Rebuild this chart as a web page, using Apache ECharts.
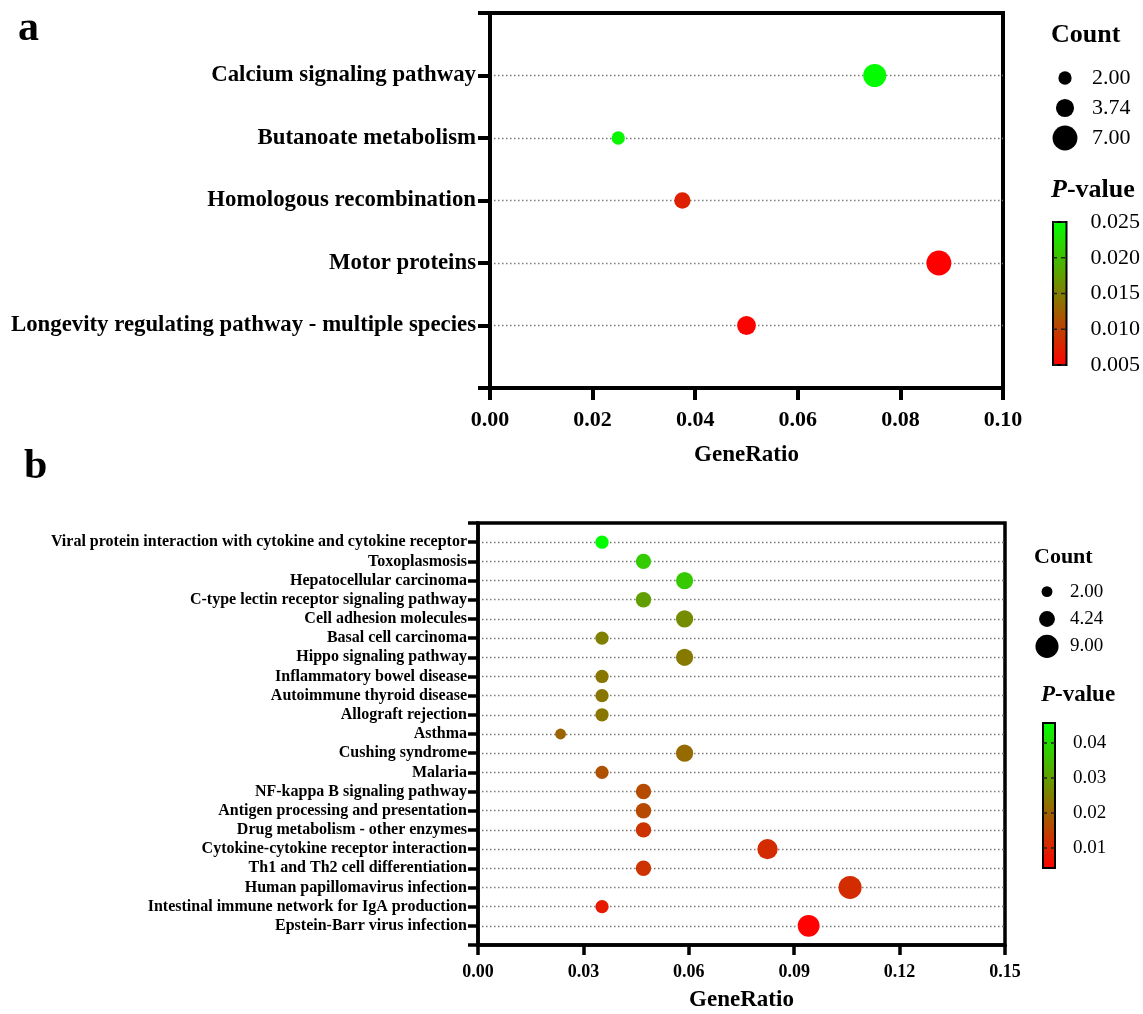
<!DOCTYPE html>
<html><head><meta charset="utf-8">
<script src="https://cdn.jsdelivr.net/npm/echarts@6/dist/echarts.min.js"></script>
<style>html,body{margin:0;padding:0;background:#fff}#c{width:1143px;height:1014px}</style>
</head><body><div id="c"></div>
<script>
// ---------- Panel a data ----------
const catsA = ['Calcium signaling pathway','Butanoate metabolism','Homologous recombination','Motor proteins','Longevity regulating pathway - multiple species'];
const ratioA = [0.075, 0.025, 0.0375, 0.0875, 0.05];
const countA = [6, 2, 3, 7, 4];
const pA = [0.0248, 0.0243, 0.0075, 0.0050, 0.0053];
const countLegendA = [2.00, 3.74, 7.00];
const pTicksA = [0.005, 0.010, 0.015, 0.020, 0.025];
const pRangeA = [0.005, 0.025];
const xTicksA = [0, 0.1, 0.02];

// ---------- Panel b data ----------
const catsB = ['Viral protein interaction with cytokine and cytokine receptor','Toxoplasmosis','Hepatocellular carcinoma','C-type lectin receptor signaling pathway','Cell adhesion molecules','Basal cell carcinoma','Hippo signaling pathway','Inflammatory bowel disease','Autoimmune thyroid disease','Allograft rejection','Asthma','Cushing syndrome','Malaria','NF-kappa B signaling pathway','Antigen processing and presentation','Drug metabolism - other enzymes','Cytokine-cytokine receptor interaction','Th1 and Th2 cell differentiation','Human papillomavirus infection','Intestinal immune network for IgA production','Epstein-Barr virus infection'];
const ratioB = [0.0353,0.0471,0.0588,0.0471,0.0588,0.0353,0.0588,0.0353,0.0353,0.0353,0.0235,0.0588,0.0353,0.0471,0.0471,0.0471,0.0824,0.0471,0.1059,0.0353,0.0941];
const countB = [3,4,5,4,5,3,5,3,3,3,2,5,3,4,4,4,7,4,9,3,8];
const pB = [0.0455,0.0375,0.0370,0.0300,0.0270,0.0250,0.0240,0.0235,0.0235,0.0235,0.0205,0.0215,0.0175,0.0165,0.0160,0.0125,0.0115,0.0125,0.0115,0.0085,0.0045];
const countLegendB = [2.00, 4.24, 9.00];
const pTicksB = [0.01, 0.02, 0.03, 0.04];
const pRangeB = [0.0043, 0.0457];
const xTicksB = [0, 0.15, 0.03];

const FF = 'Liberation Serif, Times New Roman, serif';
const sizeA = c => 9.4 * Math.sqrt(c);
const sizeB = c => 7.7 * Math.sqrt(c);

function mainGrid(idx, cats, xt, o) {
  const x = {
    type: 'value', gridIndex: idx, min: xt[0], max: xt[1], interval: xt[2],
    name: 'GeneRatio', nameLocation: 'middle', nameGap: o.nameGap,
    nameTextStyle: {fontFamily: FF, fontWeight: 'bold', fontSize: o.nameSize, color: '#000'},
    axisLine: {show: true, lineStyle: {color: '#000', width: o.lw}},
    axisTick: {show: true, length: o.tickLen, lineStyle: {color: '#000', width: o.lw}},
    axisLabel: {fontFamily: FF, fontWeight: 'bold', fontSize: o.xLabSize, color: '#000', margin: o.xMargin,
      formatter: v => v.toFixed(2)},
    splitLine: {show: false}
  };
  const y = {
    type: 'category', gridIndex: idx, data: [''].concat(cats, ['']), inverse: true, boundaryGap: false,
    axisLine: {show: true, lineStyle: {color: '#000', width: o.lw}},
    axisTick: {show: true, length: o.tickLen, lineStyle: {color: '#000', width: o.lw}},
    axisLabel: {fontFamily: FF, fontWeight: 'bold', fontSize: o.yLabSize, color: '#000', margin: o.yMargin, interval: 0},
    splitLine: {show: true, interval: (i, v) => v !== '', lineStyle: {color: '#7a7a7a', width: 1.4, type: [1.5, 2.5]}}
  };
  return [x, y];
}

const [xa, ya] = mainGrid(0, catsA, xTicksA, {lw: 4, tickLen: 12, nameGap: 56, nameSize: 23, xLabSize: 22, xMargin: 21, yLabSize: 22.8, yMargin: 14});
const [xb, yb] = mainGrid(1, catsB, xTicksB, {lw: 3.5, tickLen: 10, nameGap: 44, nameSize: 23, xLabSize: 18, xMargin: 18, yLabSize: 16, yMargin: 11});

function legendAxes(idx, vals, margin, fs) {
  return [
    {type: 'value', gridIndex: idx, min: 0, max: 1, show: false},
    {type: 'category', gridIndex: idx, data: vals.map(v => v.toFixed(2)), position: 'right', inverse: true,
      axisLine: {show: false}, axisTick: {show: false}, splitLine: {show: false},
      axisLabel: {fontFamily: FF, fontSize: fs, color: '#000', margin: margin, align: 'left'}}
  ];
}
function barAxes(idx, mn, mx, iv, margin, fs, dec) {
  return [
    {type: 'value', gridIndex: idx, min: 0, max: 1, show: false},
    {type: 'value', gridIndex: idx, min: mn, max: mx, interval: iv, position: 'right',
      axisLine: {show: false}, axisTick: {show: false}, splitLine: {show: false},
      axisLabel: {fontFamily: FF, fontSize: fs, color: '#000', margin: margin, align: 'left',
        showMinLabel: dec === 3, showMaxLabel: dec === 3, formatter: v => v.toFixed(dec)}}
  ];
}
const [xla, yla] = legendAxes(2, countLegendA, 12, 22);
const [xca, yca] = barAxes(3, pRangeA[0], pRangeA[1], 0.005, 24, 22, 3);
const [xlb, ylb] = legendAxes(4, countLegendB, 8, 19);
const [xcb, ycb] = barAxes(5, 0, 0.05, 0.01, 18, 19, 2);

function barSeries(xi, yi, range) {
  return {
    type: 'custom', xAxisIndex: xi, yAxisIndex: yi, silent: true,
    data: [[range[0], range[1]]],
    renderItem: (params, api) => {
      const p0 = api.coord([0, api.value(0)]);
      const p1 = api.coord([1, api.value(1)]);
      return {type: 'rect', shape: {x: p0[0], y: p1[1], width: p1[0] - p0[0], height: p0[1] - p1[1]},
        style: {fill: new echarts.graphic.LinearGradient(0, 0, 0, 1, [{offset: 0, color: '#00ff00'}, {offset: 1, color: '#ff0000'}]),
          stroke: '#000', lineWidth: 2}};
    }
  };
}
function dashSeries(xi, yi, ticks) {
  return {
    type: 'custom', xAxisIndex: xi, yAxisIndex: yi, silent: true, z: 5,
    data: ticks.map(v => [v]),
    renderItem: (params, api) => {
      const a = api.coord([0, api.value(0)]);
      const b = api.coord([1, api.value(0)]);
      return {type: 'line', shape: {x1: a[0], y1: a[1], x2: b[0], y2: b[1]},
        style: {stroke: '#222', lineWidth: 1.5, lineDash: [4, 4]}};
    }
  };
}

const chart = echarts.init(document.getElementById('c'));
chart.setOption({
  backgroundColor: '#fff',
  animation: false,
  title: [
    {text: 'a', left: 18, top: 8, padding: 0, textStyle: {fontFamily: FF, fontWeight: 'bold', fontSize: 42, color: '#000'}},
    {text: 'b', left: 24, top: 446, padding: 0, textStyle: {fontFamily: FF, fontWeight: 'bold', fontSize: 42, color: '#000'}},
    {text: 'Count', left: 1051, top: 22, padding: 0, textStyle: {fontFamily: FF, fontWeight: 'bold', fontSize: 26, color: '#000'}},
    {text: '{i|P}{b|-value}', left: 1051, top: 177, padding: 0, textStyle: {rich: {
      i: {fontFamily: FF, fontWeight: 'bold', fontStyle: 'italic', fontSize: 26, color: '#000'},
      b: {fontFamily: FF, fontWeight: 'bold', fontSize: 26, color: '#000'}}}},
    {text: 'Count', left: 1034, top: 546, padding: 0, textStyle: {fontFamily: FF, fontWeight: 'bold', fontSize: 22, color: '#000'}},
    {text: '{i|P}{b|-value}', left: 1041, top: 684, padding: 0, textStyle: {rich: {
      i: {fontFamily: FF, fontWeight: 'bold', fontStyle: 'italic', fontSize: 23, color: '#000'},
      b: {fontFamily: FF, fontWeight: 'bold', fontSize: 23, color: '#000'}}}}
  ],
  grid: [
    {left: 490, top: 13, width: 513, height: 375, show: true, borderColor: '#000', borderWidth: 4, backgroundColor: 'transparent'},
    {left: 478, top: 523, width: 527, height: 422, show: true, borderColor: '#000', borderWidth: 3.5, backgroundColor: 'transparent'},
    {left: 1050, top: 63, width: 30, height: 90},
    {left: 1053, top: 222, width: 15, height: 143},
    {left: 1032, top: 578, width: 30, height: 82},
    {left: 1043, top: 708, width: 12, height: 175}
  ],
  xAxis: [xa, xb, xla, xca, xlb, xcb],
  yAxis: [ya, yb, yla, yca, ylb, ycb],
  visualMap: [
    {type: 'continuous', show: false, seriesIndex: 0, dimension: 3, min: pRangeA[0], max: pRangeA[1], inRange: {color: ['#ff0000', '#00ff00']}},
    {type: 'continuous', show: false, seriesIndex: 1, dimension: 3, min: pRangeB[0], max: pRangeB[1], inRange: {color: ['#ff0000', '#00ff00']}}
  ],
  series: [
    {type: 'scatter', xAxisIndex: 0, yAxisIndex: 0, z: 10,
      data: catsA.map((c, i) => [ratioA[i], c, countA[i], pA[i]]),
      symbolSize: v => sizeA(v[2]), itemStyle: {opacity: 1}},
    {type: 'scatter', xAxisIndex: 1, yAxisIndex: 1, z: 10,
      data: catsB.map((c, i) => [ratioB[i], c, countB[i], pB[i]]),
      symbolSize: v => sizeB(v[2]), itemStyle: {opacity: 1}},
    {type: 'scatter', xAxisIndex: 2, yAxisIndex: 2,
      data: countLegendA.map(c => [0.5, c.toFixed(2), c]),
      symbolSize: v => sizeA(v[2]), itemStyle: {color: '#000', opacity: 1}},
    barSeries(3, 3, pRangeA),
    dashSeries(3, 3, pTicksA),
    {type: 'scatter', xAxisIndex: 4, yAxisIndex: 4,
      data: countLegendB.map(c => [0.5, c.toFixed(2), c]),
      symbolSize: v => sizeB(v[2]), itemStyle: {color: '#000', opacity: 1}},
    barSeries(5, 5, pRangeB),
    dashSeries(5, 5, pTicksB)
  ]
});
</script>
</body></html>
